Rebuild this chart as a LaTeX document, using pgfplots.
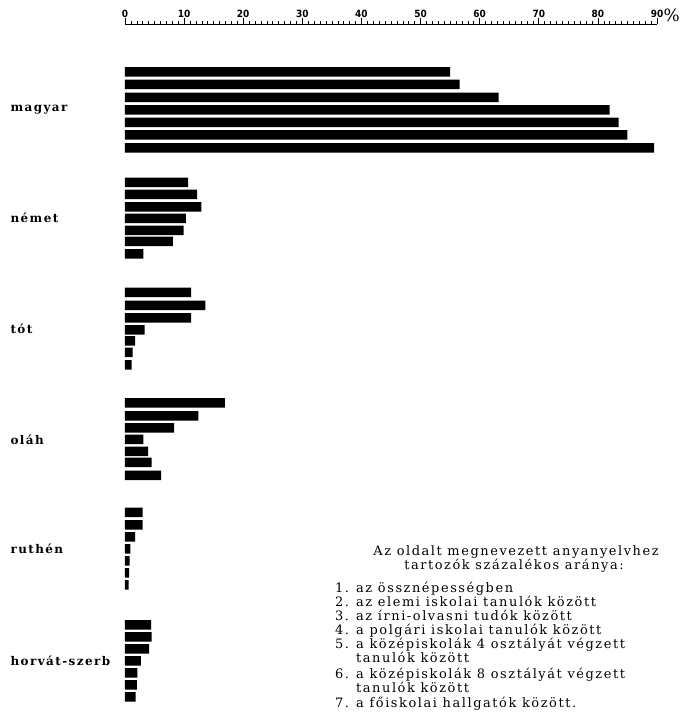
\documentclass[border=0pt]{standalone}
\usepackage{fontspec}
\setmainfont{DejaVu Serif}
\newfontfamily\lbl[LetterSpace=12]{DejaVu Serif}
\newfontfamily\ylbl[LetterSpace=12]{DejaVu Serif}
\newfontfamily\tck{DejaVu Sans Condensed}
\usepackage{pgfplots}
\pgfplotsset{compat=1.18}
\begin{document}
\begin{tikzpicture}
\useasboundingbox (-125bp,0bp) rectangle (566bp,719bp);
\begin{axis}[
  at={(0,0)}, anchor=south west,
  scale only axis, width=532bp, height=695bp,
  xmin=0, xmax=90, ymin=-719, ymax=-24,
  axis x line*=top, axis y line*=left,
  y axis line style={draw=none},
  ytick style={draw=none},
  xtick={0,10,...,90},
  xticklabels={0,10,20,30,40,50,60,70,80,90},
  minor x tick num=9,
  tick align=outside,
  major tick length=6bp, minor tick length=2.5bp,
  every tick/.style={black, line width=0.6pt},
  x axis line style={line width=0.9pt},
  xticklabel style={font=\tck\bfseries\fontsize{10}{11}\selectfont, yshift=-3bp},
  /pgf/number format/assume math mode=true,
  ytick={-110,-218,-329,-440,-549,-661},
  yticklabels={magyar,német,tót,oláh,ruthén,horvát-szerb},
  yticklabel style={anchor=west, xshift=-112bp, font=\ylbl\bfseries\fontsize{12}{13}\selectfont},
  clip=false,
]
\addplot[xbar, fill=black, draw=none, bar width=9.5] coordinates {
 (55.0,-72) (56.6,-84.5) (63.2,-97.5) (82.0,-110) (83.5,-122.5) (85.0,-135) (89.5,-148)
 (10.7,-182.5) (12.2,-194.5) (12.9,-207) (10.3,-218.5) (9.9,-230.5) (8.1,-241.5) (3.1,-254)
 (11.2,-292.5) (13.6,-305.5) (11.2,-318) (3.3,-330) (1.7,-341) (1.3,-352.5) (1.1,-365)
 (16.9,-403) (12.4,-416) (8.3,-428) (3.1,-439.5) (3.9,-451.5) (4.5,-462.5) (6.1,-475.5)
 (3.0,-512.5) (3.0,-525) (1.7,-537) (0.9,-549) (0.8,-561) (0.7,-573) (0.6,-585)
 (4.4,-625) (4.5,-637) (4.1,-649) (2.7,-661) (2.1,-673) (2.0,-685) (1.8,-697)
};
\end{axis}
\node[anchor=base west, font=\fontsize{17}{17}\selectfont] at (535bp,697bp) {\%};
\begin{scope}[every node/.style={inner sep=0pt, font=\lbl\fontsize{13}{14}\selectfont}]
\node[anchor=base] at (391bp,163bp) {Az oldalt megnevezett anyanyelvhez};
\node[anchor=base] at (389bp,149bp) {tartozók százalékos aránya:};
\node[anchor=base west] at (210bp,126bp) {1.};
\node[anchor=base west] at (210bp,112bp) {2.};
\node[anchor=base west] at (210bp,98bp) {3.};
\node[anchor=base west] at (210bp,84bp) {4.};
\node[anchor=base west] at (210bp,70bp) {5.};
\node[anchor=base west] at (210bp,40bp) {6.};
\node[anchor=base west] at (210bp,12bp) {7.};
\node[anchor=base west] at (231bp,126bp) {az össznépességben};
\node[anchor=base west] at (231bp,112bp) {az elemi iskolai tanulók között};
\node[anchor=base west] at (231bp,98bp) {az írni-olvasni tudók között};
\node[anchor=base west] at (231bp,84bp) {a polgári iskolai tanulók között};
\node[anchor=base west] at (231bp,70bp) {a középiskolák 4 osztályát végzett};
\node[anchor=base west] at (231bp,56bp) {tanulók között};
\node[anchor=base west] at (231bp,40bp) {a középiskolák 8 osztályát végzett};
\node[anchor=base west] at (231bp,27bp) {tanulók között};
\node[anchor=base west] at (231bp,12bp) {a főiskolai hallgatók között.};
\end{scope}
\end{tikzpicture}
\end{document}
